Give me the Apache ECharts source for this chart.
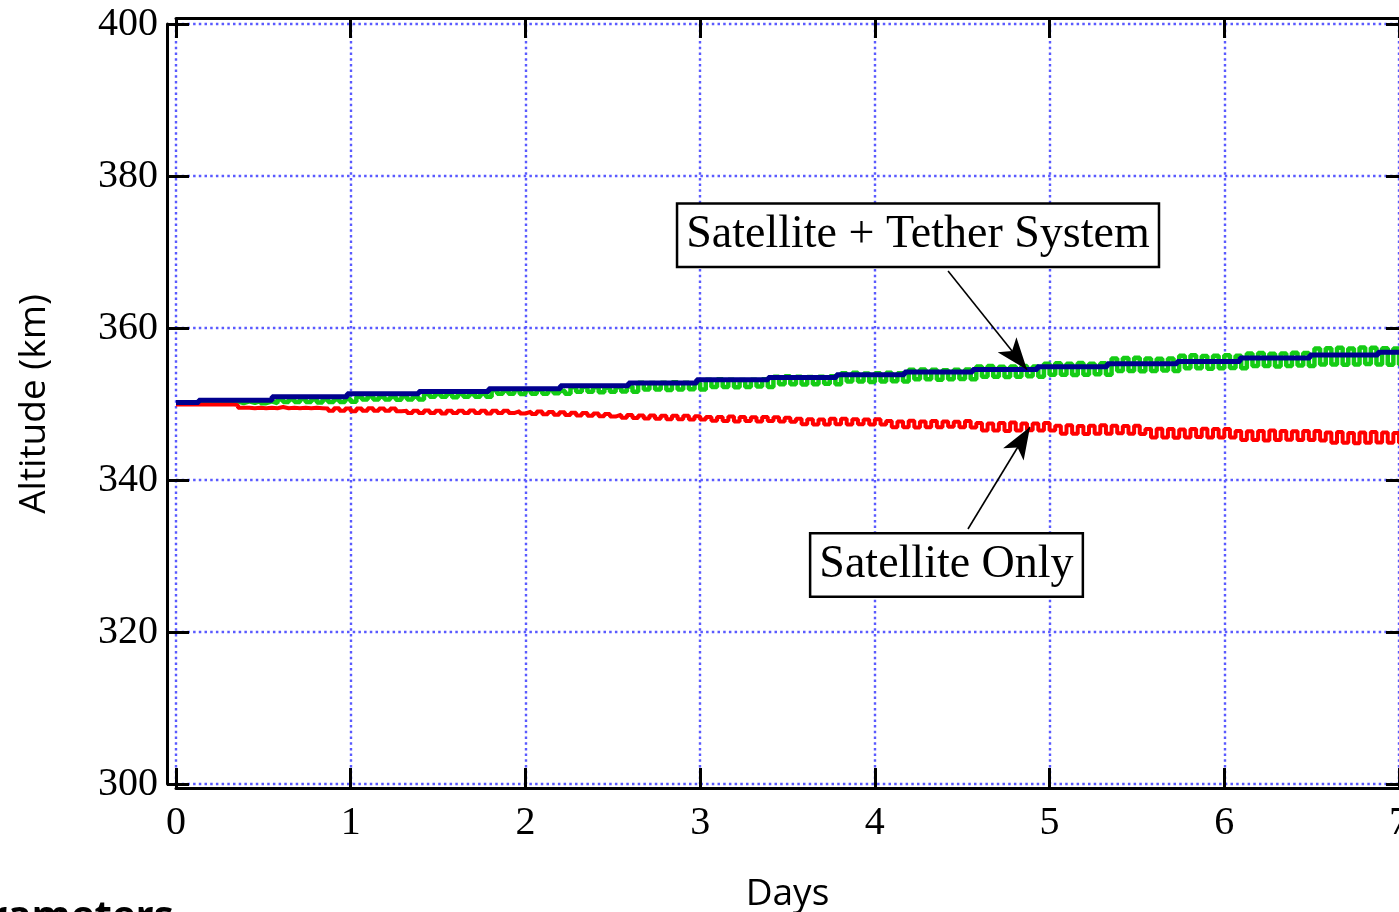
<!DOCTYPE html>
<html>
<head>
<meta charset="utf-8">
<script src="https://cdn.jsdelivr.net/npm/echarts@6/dist/echarts.min.js"></script>
<style>
html,body{margin:0;padding:0;background:#fff;}
#chart{width:1399px;height:912px;}
</style>
</head>
<body>
<div id="chart"></div>
<script>
// ---- data ----
const xTicks = [0, 1, 2, 3, 4, 5, 6, 7];
const yTicks = [300, 320, 340, 360, 380, 400];
const orbitsPerDay = 15.5; // oscillation rate

// Satellite + Tether System, mean altitude (stepped, blue)
const blueT = [0, 0.13, 0.55, 0.98, 1.39, 1.79, 2.20, 2.59, 2.98, 3.39, 3.78, 4.17, 4.56, 4.93, 5.33, 5.73, 6.09, 6.49, 6.88, 7.0];
const blueV = [350.2, 350.5, 350.95, 351.35, 351.65, 352.0, 352.4, 352.75, 353.2, 353.5, 353.85, 354.2, 354.55, 354.9, 355.3, 355.6, 356.05, 356.45, 356.8, 356.8];

// Satellite + Tether System, osculating altitude per orbit (green): high / low half-orbit
const greenHi = [
 350.2,350.2,
 350.35,350.35,350.3,350.35,350.35,350.4,350.35,
 350.6,350.6,350.65,350.6,350.6,350.6,350.65,
 350.95,351.0,350.95,350.95,351.0,350.95,
 351.3,351.3,351.35,351.3,351.3,351.35,
 351.8,351.75,351.8,351.8,351.85,351.8,351.75,
 352.2,352.25,352.2,352.15,352.2,352.3,
 352.8,352.75,352.8,352.85,352.8,352.75,
 353.2,353.25,353.2,353.15,353.2,353.25,
 353.6,353.65,353.6,353.55,353.6,353.65,
 354.05,354.1,354.0,354.05,354.1,354.05,
 354.5,354.55,354.5,354.45,354.5,354.55,
 354.95,355.0,354.9,354.95,355.0,354.95,
 355.3,355.35,355.3,355.4,355.3,355.35,
 356.0,356.05,356.1,356.0,355.95,356.0,
 356.35,356.4,356.3,356.35,356.4,356.35,
 356.65,356.7,356.6,356.65,356.75,356.7,
 357.3,357.35,357.4,357.3,357.45,357.4,357.35,357.3
];
const greenLo = [
 350.2,350.2,
 350.1,350.1,350.1,350.1,350.15,350.1,350.1,
 350.25,350.25,350.25,350.2,350.25,350.25,350.3,
 350.6,350.6,350.6,350.55,350.6,350.6,
 350.95,350.95,350.9,350.95,350.95,350.95,
 351.35,351.35,351.3,351.35,351.35,351.4,351.35,
 351.6,351.6,351.55,351.6,351.65,351.6,
 351.9,351.9,351.85,351.9,351.95,351.9,
 352.25,352.25,352.2,352.25,352.3,352.25,
 352.6,352.6,352.55,352.6,352.65,352.6,
 352.95,352.95,352.9,352.95,353.0,352.95,
 353.25,353.25,353.2,353.25,353.3,353.25,
 353.6,353.6,353.55,353.6,353.65,353.6,
 353.85,353.85,353.8,353.85,353.9,353.85,
 354.35,354.35,354.3,354.35,354.4,354.35,
 354.7,354.7,354.65,354.7,354.75,354.7,
 355.0,355.0,354.95,355.0,355.05,355.0,
 355.2,355.2,355.15,355.2,355.25,355.2,355.15,355.2
];

// Satellite Only, osculating altitude per orbit (red): high / low half-orbit
const redHi = [
 349.95,349.95,349.95,349.95,349.95,
 349.85,349.5,349.5,349.5,349.6,349.5,349.5,349.5,
 349.4,349.45,349.4,349.4,349.45,349.4,349.4,
 349.1,349.1,349.15,349.1,349.1,349.1,349.15,349.1,349.1,349.1,
 349.05,349.0,349.0,348.95,348.9,348.85,348.8,348.75,348.7,
 348.6,348.55,348.5,348.5,348.45,348.45,348.45,348.4,
 348.3,348.3,348.35,348.3,348.25,348.3,348.25,348.2,
 348.05,348.0,347.95,348.05,348.05,348.0,347.95,348.0,
 347.75,347.7,347.8,347.7,347.75,347.7,347.65,347.75,
 347.5,347.45,347.5,347.55,347.45,347.45,347.5,
 347.15,347.2,347.1,347.15,347.2,347.15,347.1,347.15,
 346.7,346.75,346.7,346.65,346.7,346.75,346.7,346.7,
 346.45,346.4,346.45,346.5,346.45,346.4,346.45,346.45,
 346.25,346.3,346.2,346.25,346.3,346.25,346.2
];
const redLo = [
 349.95,349.95,349.95,349.95,349.95,
 349.5,349.45,349.45,349.45,349.45,349.45,349.45,349.45,
 349.1,349.1,349.05,349.1,349.1,349.1,349.05,
 348.8,348.8,348.8,348.75,348.8,348.8,348.8,348.75,348.8,348.8,
 348.75,348.7,348.65,348.6,348.55,348.5,348.45,348.4,348.35,
 348.2,348.15,348.1,348.05,348.0,348.0,347.95,347.95,
 347.8,347.75,347.7,347.75,347.7,347.75,347.7,347.65,
 347.35,347.3,347.3,347.35,347.3,347.35,347.3,347.3,
 346.95,346.95,346.9,346.95,346.95,347.0,346.95,346.9,
 346.5,346.5,346.45,346.5,346.55,346.5,346.5,
 346.1,346.1,346.05,346.1,346.1,346.15,346.1,346.05,
 345.6,345.6,345.55,345.6,345.65,345.6,345.6,345.6,
 345.25,345.25,345.2,345.25,345.3,345.25,345.25,345.2,
 344.9,344.9,344.85,344.9,344.95,344.9,344.9
];

// annotations (data coordinates)
const label1 = 'Satellite + Tether System';
const label1Pos = [4.247, 372.2];
const arrow1 = [[4.419, 367.5], [4.871, 354.5]];
const label2 = 'Satellite Only';
const label2Pos = [4.41, 328.8];
const arrow2 = [[4.533, 333.55], [4.888, 346.97]];

// ---- build series data ----
function orbitSeries(hi, lo) {
  const out = [];
  for (let k = 0; k < hi.length; k++) {
    out.push([k / orbitsPerDay, hi[k]]);
    out.push([(k + 0.5) / orbitsPerDay, lo[k]]);
  }
  out.push([hi.length / orbitsPerDay, lo[lo.length - 1]]);
  return out;
}
const blueData = blueT.map((t, i) => [t, blueV[i]]);

const gridLine = { show: true, lineStyle: { color: '#5a5aff', type: [2.5, 3.2], width: 2.4 } };
const frame = { show: true, onZero: false, lineStyle: { color: '#000', width: 3 } };
const tickStyle = { color: '#000', width: 3 };
const serif = 'Liberation Serif';
const sans = 'Open Sans';

const chart = echarts.init(document.getElementById('chart'), null, { renderer: 'canvas' });
chart.setOption({
  animation: false,
  backgroundColor: '#fff',
  grid: { left: 176, right: 0, top: 24, bottom: 128, containLabel: false, outerBoundsMode: 'none' },
  xAxis: [
    {
      type: 'value', min: xTicks[0], max: xTicks[xTicks.length - 1], interval: 1,
      position: 'bottom', offset: 4,
      axisLine: frame,
      axisTick: { show: true, inside: true, length: 20, lineStyle: tickStyle },
      axisLabel: { show: true, margin: 15, color: '#000', fontFamily: serif, fontSize: 40, hideOverlap: false },
      splitLine: gridLine,
      name: 'Days', nameLocation: 'middle', nameGap: 88,
      nameTextStyle: { fontFamily: sans, fontSize: 37, color: '#000' }
    },
    {
      type: 'value', min: xTicks[0], max: xTicks[xTicks.length - 1], interval: 1,
      position: 'top', offset: 6,
      axisLine: frame,
      axisTick: { show: true, inside: true, length: 20, lineStyle: tickStyle },
      axisLabel: { show: false },
      splitLine: { show: false }
    }
  ],
  yAxis: [
    {
      type: 'value', min: yTicks[0], max: yTicks[yTicks.length - 1], interval: 20,
      position: 'left', offset: 9,
      axisLine: frame,
      axisTick: { show: true, inside: true, length: 22, lineStyle: tickStyle },
      axisLabel: { show: true, margin: 9, color: '#000', fontFamily: serif, fontSize: 40 },
      splitLine: gridLine,
      name: 'Altitude (km)', nameLocation: 'middle', nameGap: 114, nameRotate: 90,
      nameTextStyle: { fontFamily: sans, fontSize: 37, color: '#000' }
    },
    {
      type: 'value', min: yTicks[0], max: yTicks[yTicks.length - 1], interval: 20,
      position: 'right', offset: 9,
      axisLine: frame,
      axisTick: { show: true, inside: true, length: 22, lineStyle: tickStyle },
      axisLabel: { show: false },
      splitLine: { show: false }
    }
  ],
  series: [
    {
      name: 'Satellite + Tether (osculating)', type: 'line', step: 'end',
      data: orbitSeries(greenHi, greenLo), symbol: 'none',
      lineStyle: { color: '#14cc14', width: 4.5 }, silent: true, z: 2
    },
    {
      name: 'Satellite Only', type: 'line', step: 'end',
      data: orbitSeries(redHi, redLo), symbol: 'none',
      lineStyle: { color: '#ff0000', width: 4 }, silent: true, z: 3
    },
    {
      name: 'Satellite + Tether System', type: 'line', step: 'end',
      data: blueData, symbol: 'none',
      lineStyle: { color: '#00008f', width: 5 }, silent: true, z: 4,
      markLine: {
        silent: true, animation: false,
        symbol: ['none', 'arrow'], symbolSize: [18, 32],
        label: { show: false },
        lineStyle: { color: '#000', width: 1.6, type: 'solid' },
        emphasis: { disabled: true },
        data: [
          [{ coord: arrow1[0] }, { coord: arrow1[1] }],
          [{ coord: arrow2[0] }, { coord: arrow2[1] }]
        ]
      },
      markPoint: {
        silent: true, animation: false,
        symbol: 'rect', symbolSize: 1,
        itemStyle: { color: 'rgba(0,0,0,0)' },
        label: {
          show: true, position: 'inside', color: '#000',
          fontFamily: serif, fontSize: 46, lineHeight: 52,
          backgroundColor: '#fff', borderColor: '#000', borderWidth: 2.5,
          padding: [5, 8, 4, 8]
        },
        data: [
          { coord: label1Pos, value: label1, label: { formatter: label1 } },
          { coord: label2Pos, value: label2, label: { formatter: label2 } }
        ]
      }
    }
  ],
  graphic: [
    {
      type: 'text', left: -60, bottom: -26,
      style: { text: 'Parameters', font: 'bold 40px "Open Sans"', fill: '#000' },
      silent: true
    }
  ]
});
</script>
</body>
</html>
